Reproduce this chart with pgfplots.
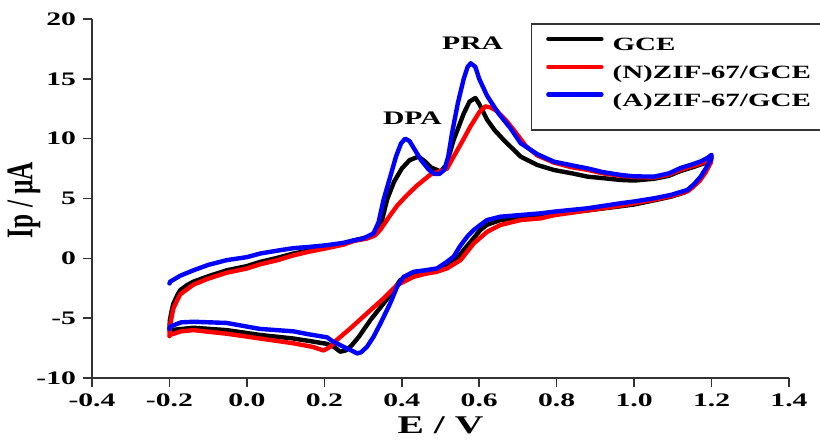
\documentclass[border=0pt]{standalone}
\usepackage{fontspec}
\setmainfont{Liberation Serif}[FakeStretch=1.55]
\newfontfamily\ylfont{Liberation Serif}[FakeStretch=0.67]
\usepackage{pgfplots}
\pgfplotsset{compat=1.18}
\begin{document}
\begin{tikzpicture}
\begin{axis}[
  at={(0,0)}, anchor=south west,
  scale only axis, width=348.5bp, height=179.5bp,
  xmin=-0.4, xmax=1.4, ymin=-10, ymax=20,
  clip=false,
  axis lines*=left,
  xtick={-0.4,-0.2,0,0.2,0.4,0.6,0.8,1.0,1.2,1.4},
  ytick={-10,-5,0,5,10,15,20},
  minor tick num=0,
  tick align=outside, major tick length=4.5bp,
  axis line style={line width=0.8bp, black!80},
  tick style={line width=0.8bp, black!80},
  /pgf/number format/assume math mode=true,
  ticklabel style={font=\fontsize{9.6}{11}\selectfont\bfseries},
  xticklabel style={/pgf/number format/.cd, fixed, fixed zerofill, precision=1},
  yticklabel style={/pgf/number format/.cd, fixed, precision=0},
  xlabel={E / V},
  ylabel={Ip / µA},
  every axis x label/.style={at={(axis description cs:0.5,-0.131)}, anchor=center, font=\fontsize{12.8}{14}\selectfont\bfseries},
  every axis y label/.style={at={(axis description cs:-0.0976,0.496)}, rotate=90, anchor=center, font=\ylfont\fontsize{18.9}{20}\selectfont\bfseries},
  legend style={at={(axis description cs:0.631,0.986)}, anchor=north west, draw=none, fill=none,
    font=\fontsize{9.4}{11}\selectfont\bfseries,
    inner xsep=7bp, inner ysep=6bp, row sep=4.9bp,
    nodes={inner sep=0bp, text height=7bp, text depth=2bp},
    /tikz/every odd column/.append style={column sep=4.5bp}},
  legend cell align=left,
  legend image code/.code={\draw[#1] (0bp,3.2bp) -- (26.5bp,3.2bp);},
  every axis plot/.append style={line width=2.2bp, line join=round, line cap=round},
]
% GCE
\addplot[black] coordinates {
(-0.200,-5.9) (-0.199,-5.2) (-0.195,-4.5) (-0.190,-3.8) (-0.180,-3.1) (-0.172,-2.65) (-0.155,-2.25) (-0.138,-1.95)
(-0.10,-1.5) (-0.052,-1.0) (0.000,-0.65) (0.034,-0.30) (0.080,0.05) (0.120,0.40) (0.160,0.65) (0.207,0.95)
(0.250,1.25) (0.276,1.50) (0.31,1.75) (0.33,2.0) (0.345,2.65) (0.362,4.9) (0.38,6.4) (0.40,7.5) (0.42,8.2)
(0.443,8.5) (0.46,8.1) (0.475,7.6) (0.49,7.4) (0.50,7.25) (0.515,7.8) (0.534,9.9) (0.56,12.1) (0.575,13.1)
(0.59,13.4) (0.60,12.9) (0.62,11.6) (0.64,10.7) (0.663,9.9) (0.685,9.2) (0.707,8.5) (0.75,7.8) (0.793,7.38)
(0.84,7.1) (0.879,6.83) (0.92,6.7) (0.965,6.55) (1.00,6.5) (1.052,6.65) (1.09,6.9) (1.12,7.3) (1.15,7.6)
(1.181,7.94) (1.200,8.5)
(1.198,8.1) (1.185,7.4) (1.17,6.7) (1.15,6.0) (1.13,5.5) (1.095,5.15) (1.052,4.85) (1.00,4.5) (0.965,4.35)
(0.879,4.0) (0.793,3.70) (0.759,3.62) (0.707,3.40) (0.655,3.20) (0.62,2.8) (0.603,2.37) (0.578,1.39) (0.56,0.7)
(0.543,0.0) (0.517,-0.70) (0.491,-0.98) (0.46,-1.1) (0.431,-1.26) (0.396,-1.82) (0.379,-2.65) (0.353,-3.77)
(0.319,-5.16) (0.289,-6.56) (0.27,-7.3) (0.255,-7.7) (0.241,-7.8) (0.225,-7.4) (0.207,-7.15) (0.160,-6.9)
(0.120,-6.7) (0.034,-6.4) (-0.052,-6.0) (-0.138,-5.8) (-0.198,-6.0) (-0.200,-6.0)
};
\addlegendentry{GCE}
% (N)ZIF-67/GCE
\addplot[red] coordinates {
(-0.200,-6.5) (-0.199,-5.8) (-0.195,-5.0) (-0.190,-4.2) (-0.180,-3.5) (-0.172,-3.0) (-0.155,-2.6) (-0.138,-2.2)
(-0.10,-1.7) (-0.052,-1.2) (0.000,-0.85) (0.034,-0.5) (0.080,-0.15) (0.120,0.25) (0.160,0.55) (0.207,0.85)
(0.250,1.15) (0.276,1.45) (0.31,1.65) (0.33,1.9) (0.345,2.4) (0.37,3.6) (0.388,4.4) (0.414,5.3) (0.44,6.1)
(0.474,7.0) (0.50,7.3) (0.517,7.5) (0.534,8.5) (0.555,9.7) (0.577,11.0) (0.60,12.2) (0.616,12.7) (0.63,12.6)
(0.646,12.3) (0.67,11.5) (0.69,10.7) (0.72,9.4) (0.75,8.6) (0.793,8.0) (0.84,7.6) (0.879,7.4) (0.92,7.1)
(0.965,6.9) (1.00,6.8) (1.052,6.75) (1.09,7.0) (1.12,7.4) (1.15,7.7) (1.18,8.0) (1.200,8.5)
(1.198,8.0) (1.185,7.2) (1.17,6.5) (1.15,5.9) (1.138,5.6) (1.095,5.2) (1.052,4.9) (1.00,4.6) (0.965,4.4)
(0.879,4.0) (0.793,3.6) (0.759,3.34) (0.707,3.2) (0.655,2.79) (0.621,2.23) (0.586,1.25) (0.565,0.4)
(0.552,-0.14) (0.517,-0.84) (0.491,-1.12) (0.46,-1.3) (0.431,-1.54) (0.388,-2.23) (0.353,-3.35) (0.31,-4.6)
(0.267,-5.86) (0.233,-6.8) (0.215,-7.4) (0.198,-7.7) (0.17,-7.4) (0.120,-7.1) (0.034,-6.7) (-0.052,-6.3)
(-0.138,-6.0) (-0.170,-6.1) (-0.198,-6.4) (-0.200,-6.5)
};
\addlegendentry{(N)ZIF-67/GCE}
% (A)ZIF-67/GCE
\addplot[blue] coordinates {
(-0.200,-2.10) (-0.198,-1.95) (-0.172,-1.45) (-0.138,-1.00) (-0.10,-0.55) (-0.052,-0.15) (0.000,0.10)
(0.034,0.40) (0.080,0.65) (0.120,0.85) (0.160,0.95) (0.207,1.10) (0.250,1.30) (0.276,1.50) (0.300,1.65)
(0.327,2.09) (0.340,3.0) (0.353,4.9) (0.37,6.8) (0.385,8.5) (0.398,9.6) (0.409,10.0) (0.42,9.8) (0.435,9.0)
(0.45,8.2) (0.47,7.4) (0.485,7.05) (0.497,7.05) (0.51,7.4) (0.52,8.5) (0.53,10.5) (0.545,13.0) (0.56,15.0)
(0.57,16.0) (0.578,16.3) (0.59,16.0) (0.60,15.0) (0.62,13.6) (0.65,12.1) (0.68,10.9) (0.707,9.62) (0.75,8.7)
(0.793,8.08) (0.85,7.7) (0.879,7.52) (0.92,7.2) (0.965,6.97) (1.00,6.85) (1.052,6.83) (1.09,7.1) (1.12,7.55)
(1.15,7.85) (1.172,8.1) (1.19,8.4) (1.200,8.65)
(1.198,8.22) (1.185,7.5) (1.172,6.83) (1.155,6.2) (1.138,5.72) (1.095,5.30) (1.052,5.02) (1.00,4.75)
(0.965,4.60) (0.879,4.18) (0.793,3.90) (0.759,3.76) (0.707,3.62) (0.655,3.48) (0.62,3.2) (0.603,2.79)
(0.585,2.35) (0.569,1.81) (0.55,1.0) (0.534,0.14) (0.517,-0.28) (0.491,-0.84) (0.46,-1.0) (0.431,-1.12)
(0.405,-1.54) (0.388,-2.37) (0.37,-3.77) (0.345,-5.44) (0.327,-6.56) (0.31,-7.4) (0.295,-7.85) (0.285,-7.95)
(0.27,-7.7) (0.25,-7.4) (0.22,-6.9) (0.207,-6.6) (0.160,-6.35) (0.120,-6.1) (0.034,-5.9) (-0.052,-5.4)
(-0.138,-5.3) (-0.170,-5.35) (-0.198,-5.7) (-0.200,-5.9)
};
\addlegendentry{(A)ZIF-67/GCE}
\node[font=\fontsize{9.6}{11}\selectfont\bfseries] at (axis cs:0.583,18.0) {PRA};
\node[font=\fontsize{9.6}{11}\selectfont\bfseries] at (axis cs:0.4275,11.74) {DPA};
\draw[black!80, line width=0.6bp] (axis description cs:0.631,0.986) rectangle (axis description cs:1.06,0.691);
\end{axis}
\pgfresetboundingbox
\path (-46bp,-31.5bp) rectangle (364bp,189bp);
\end{tikzpicture}
\end{document}
